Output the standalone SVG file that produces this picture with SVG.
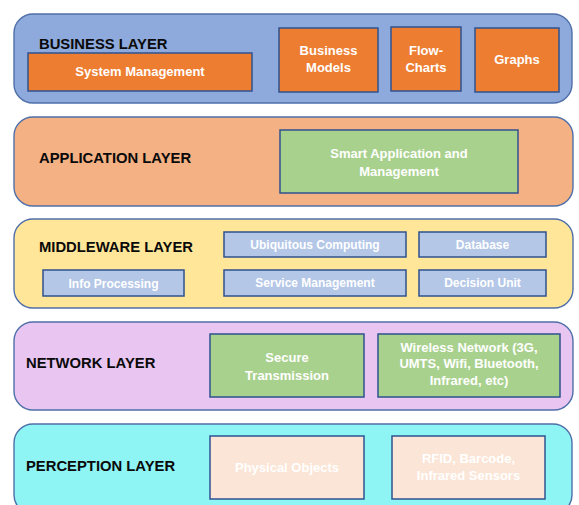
<svg xmlns="http://www.w3.org/2000/svg" width="579" height="505" viewBox="0 0 579 505">
<style>
.layer{stroke:#4F6FA8;stroke-width:1.4}
.box{stroke:#2F528F;stroke-width:1.5}
.title{font-family:"Liberation Sans",Arial,sans-serif;font-weight:bold;font-size:14.8px;fill:#0a0a0a}
.t{font-family:"Liberation Sans",Arial,sans-serif;font-weight:bold;font-size:13px;fill:#ffffff;text-anchor:middle}
.s{font-size:12px}
.orange{fill:#ED7D31}
.green{fill:#A9D18E}
.lblue{fill:#B4C7E7}
.peach{fill:#FBE5D6}
</style>
<rect width="579" height="505" fill="#ffffff"/>
<g id="business-layer">
<rect class="layer" x="14" y="14" width="558" height="89" rx="19" fill="#8EA9DB"/>
<text class="title" x="39" y="49">BUSINESS LAYER</text>
</g>
<g id="system-management">
<rect class="box orange" x="28" y="53" width="224" height="38"/>
<text class="t" x="140" y="76">System Management</text>
</g>
<g id="business-models">
<rect class="box orange" x="279" y="28" width="99" height="64"/>
<text class="t" x="328.5" y="55">Business</text>
<text class="t" x="328.5" y="72">Models</text>
</g>
<g id="flow-charts">
<rect class="box orange" x="391" y="27" width="70" height="64"/>
<text class="t" x="426" y="55">Flow-</text>
<text class="t" x="426" y="72">Charts</text>
</g>
<g id="graphs">
<rect class="box orange" x="475" y="28" width="84" height="64"/>
<text class="t" x="517" y="64">Graphs</text>
</g>
<g id="application-layer">
<rect class="layer" x="14" y="117" width="559" height="89" rx="19" fill="#F4B183"/>
<text class="title" x="39" y="163">APPLICATION LAYER</text>
</g>
<g id="smart-application">
<rect class="box green" x="280" y="130" width="238" height="63"/>
<text class="t" x="399" y="157.5">Smart Application and</text>
<text class="t" x="399" y="175.5">Management</text>
</g>
<g id="middleware-layer">
<rect class="layer" x="14" y="219" width="559" height="89" rx="19" fill="#FFE699"/>
<text class="title" x="39" y="252">MIDDLEWARE LAYER</text>
</g>
<g id="ubiquitous-computing">
<rect class="box lblue" x="224" y="232" width="182" height="25"/>
<text class="t s" x="315" y="249">Ubiquitous Computing</text>
</g>
<g id="database">
<rect class="box lblue" x="419" y="232" width="127" height="25"/>
<text class="t s" x="482.5" y="249">Database</text>
</g>
<g id="info-processing">
<rect class="box lblue" x="43" y="270" width="141" height="26"/>
<text class="t s" x="113.5" y="287.5">Info Processing</text>
</g>
<g id="service-management">
<rect class="box lblue" x="224" y="270" width="182" height="26"/>
<text class="t s" x="315" y="287">Service Management</text>
</g>
<g id="decision-unit">
<rect class="box lblue" x="419" y="270" width="127" height="26"/>
<text class="t s" x="482.5" y="287">Decision Unit</text>
</g>
<g id="network-layer">
<rect class="layer" x="14" y="322" width="559" height="88" rx="19" fill="#E9C6F2"/>
<text class="title" x="26" y="368">NETWORK LAYER</text>
</g>
<g id="secure-transmission">
<rect class="box green" x="210" y="334" width="154" height="63"/>
<text class="t" x="287" y="362">Secure</text>
<text class="t" x="287" y="380">Transmission</text>
</g>
<g id="wireless-network">
<rect class="box green" x="378" y="334" width="182" height="63"/>
<text class="t" x="469" y="351.5">Wireless Network (3G,</text>
<text class="t" x="469" y="367.5">UMTS, Wifi, Bluetooth,</text>
<text class="t" x="469" y="384.5">Infrared, etc)</text>
</g>
<g id="perception-layer">
<rect class="layer" x="14" y="424" width="558" height="90" rx="19" fill="#8EF4F4"/>
<text class="title" x="26" y="471">PERCEPTION LAYER</text>
</g>
<g id="physical-objects">
<rect class="box peach" x="210" y="436" width="154" height="63"/>
<text class="t" x="287" y="472">Physical Objects</text>
</g>
<g id="rfid-sensors">
<rect class="box peach" x="392" y="436" width="153" height="63"/>
<text class="t" x="468.5" y="463">RFID, Barcode,</text>
<text class="t" x="468.5" y="480">Infrared Sensors</text>
</g>
</svg>
